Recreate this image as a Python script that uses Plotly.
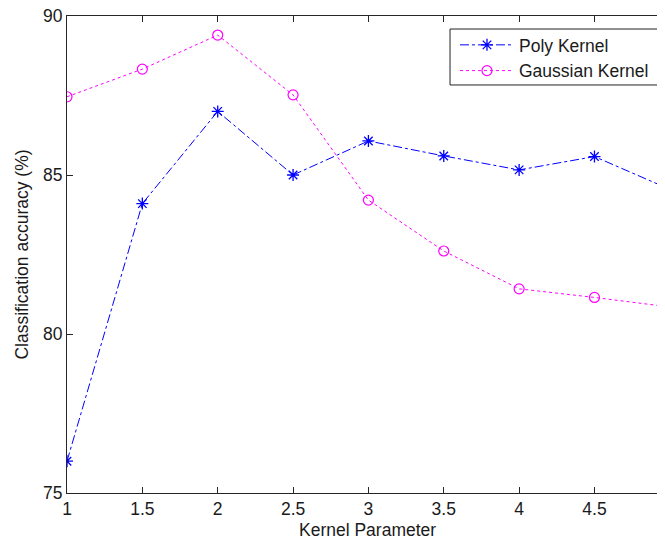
import plotly.graph_objects as go

kernel_param = [1, 1.5, 2, 2.5, 3, 3.5, 4, 4.5, 5]
poly_acc = [76.0, 84.1, 87.0, 85.0, 86.07, 85.6, 85.16, 85.58, 84.55]
gauss_acc = [87.46, 88.33, 89.4, 87.52, 84.21, 82.61, 81.42, 81.15, 80.85]
x_ticks = [1, 1.5, 2, 2.5, 3, 3.5, 4, 4.5]
y_ticks = [75, 80, 85, 90]

fig = go.Figure()
fig.add_trace(go.Scatter(
    x=kernel_param, y=poly_acc, name="Poly Kernel", mode="lines+markers",
    line=dict(color="#0000FF", width=1, dash="dashdot"),
    marker=dict(symbol="asterisk-open", size=10, color="#0000FF",
                line=dict(color="#0000FF", width=1.3)),
))
fig.add_trace(go.Scatter(
    x=kernel_param, y=gauss_acc, name="Gaussian Kernel", mode="lines+markers",
    line=dict(color="#FF00FF", width=1, dash="3px,3px"),
    marker=dict(symbol="circle-open", size=10, color="#FF00FF",
                line=dict(color="#FF00FF", width=1.2)),
))

FONT = "Liberation Sans, Arial, sans-serif"
axis_font = dict(family=FONT, size=17.5, color="#1a1a1a")

# legend frame (paper coordinates)
fig.add_shape(type="rect", xref="paper", yref="paper",
              x0=0.6405, x1=0.995, y0=0.8554, y1=0.9727,
              line=dict(color="#222", width=1), fillcolor="white", layer="above")

# x-axis title, centred under the full (partly cropped) axis
fig.add_annotation(text="Kernel Parameter", xref="paper", yref="paper",
                   x=0.503, y=-0.078, xanchor="center", yanchor="middle",
                   showarrow=False, font=dict(family=FONT, size=17.5, color="#1a1a1a"))

fig.update_layout(
    width=657, height=530,
    margin=dict(l=59, r=0, t=8, b=45, autoexpand=False),
    paper_bgcolor="white", plot_bgcolor="white",
    font=axis_font,
    showlegend=True,
    legend=dict(x=0.6488, y=0.977, xanchor="left", yanchor="top",
                bgcolor="rgba(0,0,0,0)", borderwidth=0,
                font=dict(family=FONT, size=17.5, color="#1a1a1a"),
                itemwidth=54, tracegroupgap=0),
    xaxis=dict(range=[1, 4.968], tickvals=x_ticks, ticktext=[str(v) for v in x_ticks],
               ticks="inside", ticklen=6, tickcolor="#262626",
               showline=True, linecolor="#262626", linewidth=1, mirror="ticks",
               showgrid=False, zeroline=False, ticklabeloverflow="allow",
               tickfont=axis_font),
    yaxis=dict(range=[75, 90], tickvals=y_ticks, ticktext=[str(v) for v in y_ticks],
               ticks="inside", ticklen=6, tickcolor="#262626",
               showline=True, linecolor="#262626", linewidth=1, mirror=False,
               showgrid=False, zeroline=False, ticklabeloverflow="allow",
               title=dict(text="Classification accuracy (%)", font=dict(family=FONT, size=17.5), standoff=9),
               tickfont=axis_font),
)

fig.write_html("out.html")
